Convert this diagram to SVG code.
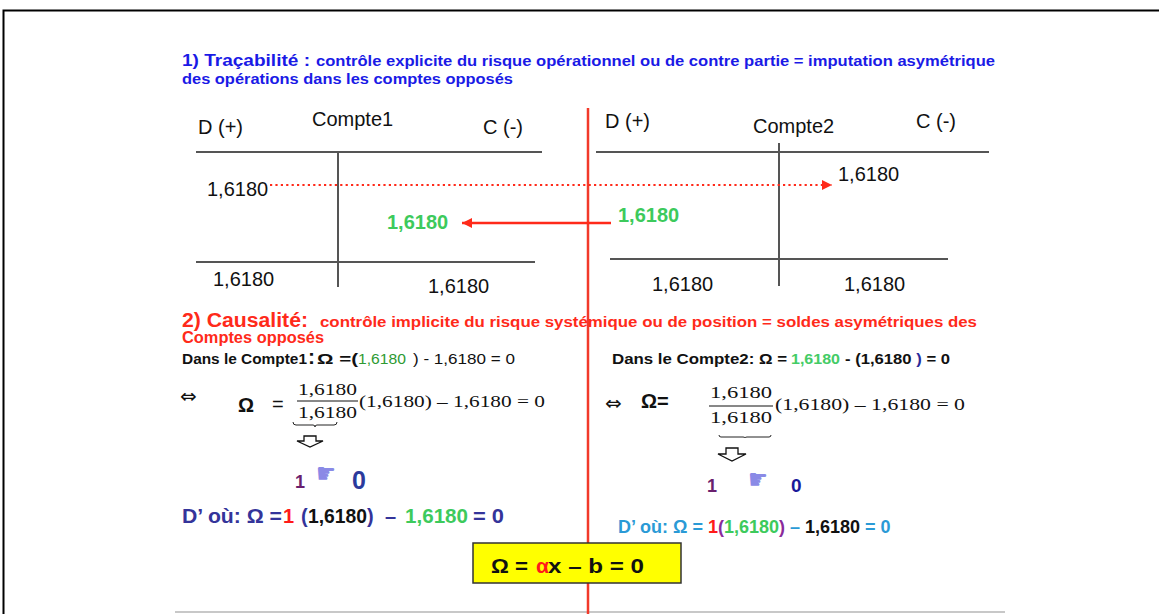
<svg xmlns="http://www.w3.org/2000/svg" width="1159" height="614" viewBox="0 0 1159 614">
<style>
text{font-family:"Liberation Sans",Arial,sans-serif;}
.serif{font-family:"Liberation Serif","Times New Roman",serif;font-size:17px;fill:#111;}
.acc{stroke:#555;stroke-width:2;fill:none;}
.lbl{font-size:20px;fill:#111;}
.b{font-weight:bold;}
.green{fill:#3dca5c;}
.sym{font-family:"DejaVu Sans",sans-serif;}
</style>
<defs>
<marker id="ah" markerUnits="userSpaceOnUse" markerWidth="12" markerHeight="12" refX="10" refY="5" orient="auto">
<path d="M0,0 L10,5 L0,10 z" fill="#ff2a1a"/>
</marker>
</defs>
<rect x="0" y="0" width="1159" height="614" fill="#fff"/>
<path d="M3.5,614 V10.5 H1159" fill="none" stroke="#000" stroke-width="2"/>
<line x1="175" y1="612" x2="1005" y2="612" stroke="#c8c8c8" stroke-width="2"/>

<g id="title1">
<text x="182" y="66" fill="#1a1ae6" class="b" font-size="17" textLength="128" lengthAdjust="spacingAndGlyphs">1) Traçabilité :</text>
<text x="316" y="66" fill="#1a1ae6" class="b" font-size="15" textLength="679" lengthAdjust="spacingAndGlyphs">contrôle explicite du risque opérationnel ou de contre partie = imputation asymétrique</text>
<text x="182" y="84" fill="#1a1ae6" class="b" font-size="15" textLength="331" lengthAdjust="spacingAndGlyphs">des opérations dans les comptes opposés</text>
</g>

<line id="divider" x1="588" y1="108" x2="588" y2="614" stroke="#f2392a" stroke-width="2.5"/>

<g id="compte1">
<text x="198" y="134" class="lbl">D (+)</text>
<text x="312" y="126" class="lbl">Compte1</text>
<text x="483" y="134" class="lbl">C (-)</text>
<line class="acc" x1="196" y1="152" x2="542" y2="152"/>
<line class="acc" x1="338" y1="152" x2="338" y2="287"/>
<line class="acc" x1="196" y1="262" x2="535" y2="262"/>
<text x="207" y="196" class="lbl">1,6180</text>
<text x="387" y="229" class="lbl b green">1,6180</text>
<text x="213" y="286" class="lbl">1,6180</text>
<text x="428" y="293" class="lbl">1,6180</text>
</g>

<g id="compte2">
<text x="605" y="128" class="lbl">D (+)</text>
<text x="753" y="133" class="lbl">Compte2</text>
<text x="916" y="128" class="lbl">C (-)</text>
<line class="acc" x1="596" y1="152" x2="989" y2="152"/>
<line class="acc" x1="779" y1="143" x2="779" y2="286"/>
<line class="acc" x1="610" y1="259" x2="948" y2="259"/>
<text x="838" y="181" class="lbl">1,6180</text>
<text x="618" y="222" class="lbl b green">1,6180</text>
<text x="652" y="291" class="lbl">1,6180</text>
<text x="844" y="291" class="lbl">1,6180</text>
</g>

<g id="connectors">
<line x1="270" y1="185" x2="832" y2="185" stroke="#ff2a1a" stroke-width="2.2" stroke-dasharray="2.2 3.2" marker-end="url(#ah)"/>
<line x1="611" y1="223" x2="462" y2="223" stroke="#ff2a1a" stroke-width="2.5" marker-end="url(#ah)"/>
</g>

<g id="title2">
<text x="182" y="327" fill="#ff2a1a" class="b" font-size="20" textLength="126" lengthAdjust="spacingAndGlyphs">2) Causalité:</text>
<text x="320" y="327" fill="#ff2a1a" class="b" font-size="15" textLength="657" lengthAdjust="spacingAndGlyphs">contrôle implicite du risque  systémique ou de position = soldes asymétriques des</text>
<text x="182" y="343" fill="#ff2a1a" class="b" font-size="16" textLength="142" lengthAdjust="spacingAndGlyphs">Comptes opposés</text>
</g>

<g id="eq-compte1">
<text x="182" y="364" class="b" font-size="15.5" fill="#111" textLength="125" lengthAdjust="spacingAndGlyphs">Dans le Compte1</text>
<text x="308" y="364" class="b" font-size="21" fill="#111">:</text>
<text x="317" y="364" class="b" font-size="15.5" fill="#111" textLength="41" lengthAdjust="spacingAndGlyphs">Ω =(</text>
<text x="358" y="364" font-size="15.5" fill="#2e9a32" textLength="48" lengthAdjust="spacingAndGlyphs">1,6180</text>
<text x="413" y="364" font-size="15.5" fill="#111" textLength="102" lengthAdjust="spacingAndGlyphs">) - 1,6180 = 0</text>
<text x="180" y="403" class="sym" font-size="20" fill="#111">⇔</text>
<text x="238" y="412" font-size="20" fill="#111" class="b">Ω</text>
<text x="272" y="411" font-size="20" fill="#111">=</text>
<text x="298" y="395" class="serif" textLength="59" lengthAdjust="spacingAndGlyphs">1,6180</text>
<line x1="297" y1="401" x2="358" y2="401" stroke="#111" stroke-width="1"/>
<text x="298" y="418" class="serif" textLength="59" lengthAdjust="spacingAndGlyphs">1,6180</text>
<text x="359" y="407" class="serif" textLength="186" lengthAdjust="spacingAndGlyphs">(1,6180) – 1,6180 = 0</text>
<path d="M293,422 q0,3 3,3 H313 q2,0 2,2 q0,-2 2,-2 H334 q3,0 3,-3" fill="none" stroke="#222" stroke-width="1"/>
<path d="M304,436 H316 V441 H323 L310,447 L297,441 H304 Z" fill="none" stroke="#111" stroke-width="1.3"/>
<text x="295" y="488" class="b" font-size="18" fill="#6a1f6e">1</text>
<text x="316" y="483" class="sym" font-size="28" fill="#8a8ae6" textLength="20" lengthAdjust="spacingAndGlyphs">☛</text>
<text x="352" y="489" class="b" font-size="25" fill="#2b3a9c">0</text>
<text x="182" y="523" class="b" font-size="20" fill="#34349a" textLength="100" lengthAdjust="spacingAndGlyphs">D’ où: Ω =</text>
<text x="283" y="523" class="b" font-size="20" fill="#ff1a1a">1</text>
<text x="301" y="523" class="b" font-size="20" fill="#34349a">(</text>
<text x="308" y="523" class="b" font-size="20" fill="#111" textLength="59" lengthAdjust="spacingAndGlyphs">1,6180</text>
<text x="367" y="523" class="b" font-size="20" fill="#34349a">)</text>
<text x="385" y="523" class="b" font-size="20" fill="#34349a">–</text>
<text x="405" y="523" class="b" font-size="20" fill="#3dca5c" textLength="63" lengthAdjust="spacingAndGlyphs">1,6180</text>
<text x="473" y="523" class="b" font-size="20" fill="#34349a" textLength="31" lengthAdjust="spacingAndGlyphs">= 0</text>
</g>

<g id="eq-compte2">
<text x="612" y="364" class="b" font-size="15.5" fill="#111" textLength="175" lengthAdjust="spacingAndGlyphs">Dans le Compte2: Ω =</text>
<text x="791" y="364" class="b" font-size="15.5" fill="#44cc66" textLength="49" lengthAdjust="spacingAndGlyphs">1,6180</text>
<text x="845" y="364" class="b" font-size="15.5" fill="#111" textLength="105" lengthAdjust="spacingAndGlyphs">- (1,6180 <tspan fill="#2a2a9a">)</tspan> = 0</text>
<text x="605" y="410" class="sym" font-size="20" fill="#111">⇔</text>
<text x="641" y="408" font-size="20" fill="#111" class="b">Ω=</text>
<text x="710" y="398" class="serif" textLength="62" lengthAdjust="spacingAndGlyphs">1,6180</text>
<line x1="709" y1="406" x2="773" y2="406" stroke="#111" stroke-width="1"/>
<text x="710" y="423" class="serif" textLength="62" lengthAdjust="spacingAndGlyphs">1,6180</text>
<text x="775" y="410" class="serif" textLength="190" lengthAdjust="spacingAndGlyphs">(1,6180) – 1,6180 = 0</text>
<path d="M719,435 q0,2 2,2 H743 q2,0 2,1 q0,-1 2,-1 H769 q2,0 2,-2" fill="none" stroke="#222" stroke-width="1"/>
<path d="M726,448 H738 V454 H746 L732,461 L718,454 H726 Z" fill="none" stroke="#111" stroke-width="1.3"/>
<text x="707" y="492" class="b" font-size="18" fill="#6a1f6e">1</text>
<text x="748" y="489" class="sym" font-size="28" fill="#8a8ae6" textLength="20" lengthAdjust="spacingAndGlyphs">☛</text>
<text x="791" y="492" class="b" font-size="19" fill="#1a1a9a">0</text>
<text x="618" y="533" class="b" font-size="18" fill="#2a9ad6">D’ où: Ω = <tspan fill="#ff1a1a">1</tspan><tspan fill="#8a2a9a">(</tspan><tspan fill="#3dca5c">1,6180</tspan><tspan fill="#8a2a9a">)</tspan> – <tspan fill="#111">1,6180</tspan> = 0</text>
</g>

<g id="result">
<rect x="473" y="543" width="208" height="40" fill="#ffff00" stroke="#333" stroke-width="1.5"/>
<text x="491" y="573" class="b" font-size="21" fill="#111" textLength="37" lengthAdjust="spacingAndGlyphs">Ω =</text>
<text x="536" y="573" class="b" font-size="21" fill="#ff1a1a">α</text>
<text x="548" y="573" class="b" font-size="21" fill="#111" textLength="96" lengthAdjust="spacingAndGlyphs">x – b = 0</text>
</g>
</svg>
